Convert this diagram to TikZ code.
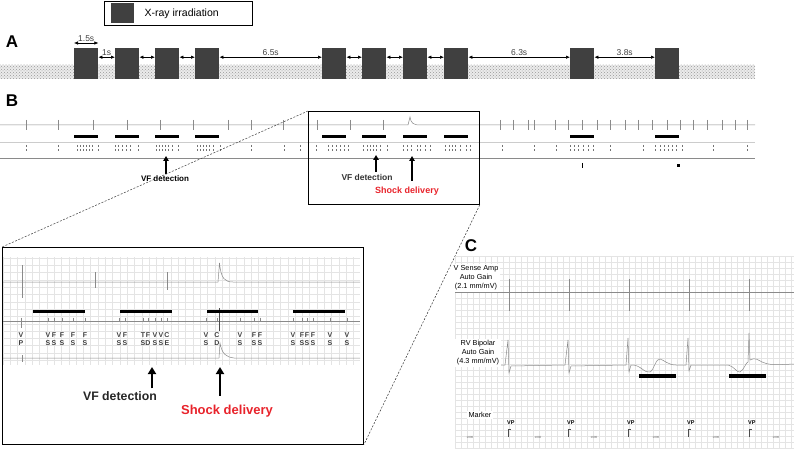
\documentclass[tikz,border=0pt]{standalone}
\usepackage{fontspec}
\setmainfont{Liberation Sans}
\usepackage{tikz}
\usetikzlibrary{positioning,arrows.meta,patterns}
\usepackage{xcolor}
\definecolor{xgray}{HTML}{404040}
\definecolor{shockred}{HTML}{E8232B}
\definecolor{tracegray}{HTML}{8A8A8A}
\definecolor{gridgray}{HTML}{E4E4E4}

\begin{document}
\begin{tikzpicture}[
    x=1pt, y=-1pt,
    xray/.style={fill=xgray, draw=none, minimum width=24pt, minimum height=31pt, inner sep=0pt, anchor=north west},
    band/.style={fill=black!12, pattern=crosshatch dots, pattern color=black!40, draw=none},
    span/.style={<->, >={Latex[length=4pt,width=3.5pt]}, line width=0.6pt},
    seclabel/.style={font=\fontsize{17}{17}\selectfont\bfseries, inner sep=0pt},
    dur/.style={font=\fontsize{8.5}{9}\selectfont, inner sep=1.5pt, text=black!75},
    trace/.style={draw=tracegray, line width=0.5pt},
    exbar/.style={line width=3pt},
    bigarrow/.style={-{Triangle[length=7pt,width=8pt]}, line width=2.2pt},
    smallarrow/.style={-{Triangle[length=5pt,width=5.5pt]}, line width=1.5pt},
    zoomframe/.style={draw, line width=0.8pt, inner sep=0pt, anchor=north west},
    zoomline/.style={dash pattern=on 2pt off 1.5pt, line width=0.5pt, black!80},
    mklabel/.style={font=\fontsize{7}{7.6}\selectfont\bfseries, align=center, inner sep=0pt, text=black!75},
    chlabel/.style={fill=white, inner sep=1.5pt, align=center, font=\fontsize{7.3}{9}\selectfont}
]
\useasboundingbox (0,0) rectangle (794,449);

% Legend
\node[draw, line width=0.6pt, minimum width=148pt, minimum height=24pt, inner sep=0pt, anchor=north west] (legend) at (104,1) {};
\node[fill=xgray, minimum width=23pt, minimum height=20pt, inner sep=0pt, anchor=west] (legsq) at ([xshift=7pt]legend.west) {};
\node[right=10pt of legsq, inner sep=0pt, font=\fontsize{10.5}{12}\selectfont] (legtext) {X-ray irradiation};

% Panel A
\node[seclabel] (labA) at (12,42) {A};
\fill[black!8] (0,65) rectangle (755,79);
\fill[band] (0,65) rectangle (755,79);
\foreach \x [count=\i] in {74,115,155,195,322,362,403,444,570,655}
    \node[xray] (x\i) at (\x,48) {};

\draw[span] ([yshift=5pt]x1.north west) -- node[dur, above] {1.5s} ([yshift=5pt]x1.north east);
\draw[span] ([yshift=6.5pt]x1.east) -- node[dur, above] {1s} ([yshift=6.5pt]x2.west);
\foreach \a/\b in {2/3,3/4,5/6,6/7,7/8}
    \draw[span] ([yshift=6.5pt]x\a.east) -- ([yshift=6.5pt]x\b.west);
\draw[span] ([yshift=6.5pt]x4.east) -- node[dur, above] {6.5s} ([yshift=6.5pt]x5.west);
\draw[span] ([yshift=6.5pt]x8.east) -- node[dur, above] {6.3s} ([yshift=6.5pt]x9.west);
\draw[span] ([yshift=6.5pt]x9.east) -- node[dur, above] {3.8s} ([yshift=6.5pt]x10.west);

% Panel B, overview strip
\node[seclabel] (labB) at (12,101) {B};
\draw[trace] (0,125) -- (408,125) -- (410,117) .. controls (411,123) and (413,125) .. (420,125) -- (755,125);
\draw[trace, draw=black!20] (0,142) -- (755,142);
\draw[trace] (0,158) -- (755,158);
\foreach \x in {26,58,93,127,160,193,228,251,283,317,350,383,500,513,528,534,555,568,582,597,610,625,638,652,667,680,693,707,722,735,747}
    \draw[trace] (\x,120) -- (\x,130);
\foreach \x in {26,58,77,80,83,86,89,92,98,115,118,122,126,130,138,156,159,162,165,168,172,178,197,200,203,206,209,213,220,251,284,300,316,328,332,336,340,344,348,363,367,370,373,376,380,387,403,407,411,417,420,425,430,445,449,452,455,460,466,470,502,534,556,570,574,578,583,588,593,610,643,655,660,664,668,672,676,682,713,747}
    \draw[black!55, line width=0.4pt] (\x,145) -- (\x,147.5) (\x,149) -- (\x,151.5);
\draw[black, line width=0.8pt] (582,163) -- (582,168);
\fill[black] (677,164) rectangle (680,167);
\coordinate (barB) at (0,137);
\foreach \i in {1,...,10}
    \draw[exbar] (x\i.west |- barB) -- (x\i.east |- barB);

\node[font=\fontsize{8}{9}\selectfont\bfseries, inner sep=0pt] (vfB1) at (165,179) {VF detection};
\coordinate (vfB1tip) at (166,156);
\draw[smallarrow, shorten <=2pt] (vfB1.north -| vfB1tip) -- (vfB1tip);

\node[zoomframe, minimum width=171pt, minimum height=93pt] (zoomB) at (308,111) {};
\node[font=\fontsize{8.5}{9}\selectfont\bfseries, inner sep=0pt, text=black!80] (vfB2) at (367,177) {VF detection};
\coordinate (vfB2tip) at (376,155);
\draw[smallarrow, shorten <=2pt] (vfB2.north -| vfB2tip) -- (vfB2tip);
\node[font=\fontsize{9}{10}\selectfont\bfseries, inner sep=0pt, text=shockred] (shockB) at (407,191) {Shock delivery};
\coordinate (shockBtip) at (412,156);
\draw[smallarrow, shorten <=6pt] (shockB.north -| shockBtip) -- (shockBtip);

% Panel B, enlarged strip
\node[zoomframe, minimum width=361pt, minimum height=197pt] (bigB) at (2,247) {};
\foreach \x in {3,10.3,...,360}
    \draw[gridgray, line width=0.4pt] (\x,257) -- (\x,365);
\foreach \y in {258,265.3,...,365}
    \draw[gridgray, line width=0.4pt] (3,\y) -- (360,\y);
\draw[trace] (3,282) -- (218,282) -- (219.5,263) .. controls (221,279) and (225,282) .. (233,282) -- (360,282);
\draw[trace] (22,265) -- (22,298);
\draw[trace] (95,272) -- (95,288);
\draw[trace] (167,272) -- (167,290);
\draw[trace] (3,321) -- (360,321);
\draw[trace] (3,358) -- (219,358) -- (220,343) .. controls (222,354) and (226,357) .. (234,358) -- (360,358);
\draw[trace] (22,355) -- (22,362);
\draw[trace] (21,321) -- (21,328);
\draw[black!70, line width=0.7pt] (219,308) -- (219,331);
\foreach \a/\b in {33/85,120/172,207/258,293/345}
    \draw[exbar] (\a,311) -- (\b,311);
\foreach \x/\t/\b [count=\i] in {21/V/P,48/V/S,54/F/S,62/F/S,73/F/S,85/F/S,119/V/S,125/F/S,143/T/S,148/F/D,155/V/S,161/V/S,167/C/E,206/V/S,217/C/D,240/V/S,254/F/S,260/F/S,293/V/S,302/F/S,307/F/S,313/F/S,330/V/S,347/V/S}
    {\node[mklabel] (mk\i) at (\x,339) {\t\\\b};
     \draw[trace] (\x,317.5) -- (\x,321);}

\node[font=\fontsize{12.3}{13}\selectfont\bfseries, inner sep=0pt, text=black!85] (vfdet) at (120,396) {VF detection};
\coordinate (vftip) at (152,367);
\draw[bigarrow, shorten <=3pt] (vfdet.north -| vftip) -- (vftip);
\node[font=\fontsize{13}{14}\selectfont\bfseries, inner sep=0pt, text=shockred] (shock) at (227,411) {Shock delivery};
\coordinate (shocktip) at (220,367);
\draw[bigarrow, shorten <=9pt] (shock.north -| shocktip) -- (shocktip);

\draw[zoomline] (zoomB.north west) -- (bigB.north west);
\draw[zoomline] (zoomB.south east) -- (bigB.south east);

% Panel C
\node[seclabel] (labC) at (471,246) {C};
\foreach \x in {455,461,...,794}
    \draw[gridgray, line width=0.4pt] (\x,256) -- (\x,449);
\foreach \y in {256,262,...,449}
    \draw[gridgray, line width=0.4pt] (455,\y) -- (794,\y);
\draw[trace] (455,292) -- (794,292);
\foreach \x in {509,569,629,689,749}
    \draw[trace] (\x,279) -- (\x,311);
\draw[trace] (455,365) -- (505,365) -- (508,340) -- (509,373) -- (511,366) -- (565,365) -- (568,340) -- (569,373) -- (571,366)
    -- (626,365) -- (628,338) -- (629,372) -- (631,365) .. controls (640,364) and (645,374) .. (650,372)
    .. controls (654,370) and (656,358) .. (660,359) .. controls (664,360) and (668,365) .. (676,365)
    -- (686,365) -- (688,338) -- (689,371) -- (691,365) -- (728,365) .. controls (734,366) and (737,373) .. (740,372)
    .. controls (744,370) and (746,362) .. (748,362) -- (749,333) -- (750,360) .. controls (755,357) and (758,360) .. (762,362)
    .. controls (768,365) and (775,365) .. (794,364);
\draw[line width=4pt] (639,376) -- (676,376);
\draw[line width=4pt] (729,376) -- (766,376);
\foreach \x [count=\i] in {508,568,628,688,749}
    {\node[font=\fontsize{5.5}{6}\selectfont\bfseries, inner sep=0pt, anchor=west] (vp\i) at (\x-1,423) {VP};
     \draw[black!70, line width=0.5pt] (\x,437) -- (\x,429) -- (\x+3,429);}
\foreach \x [count=\i] in {470,538,594,656,716,776}
    \node[font=\fontsize{3}{3}\selectfont, inner sep=0pt, text=black!60] (ms\i) at (\x,437) {1000};
\node[chlabel] (vsense) at (476,278) {V Sense Amp\\Auto Gain\\(2.1 mm/mV)};
\node[chlabel] (rvbip) at (478,353) {RV Bipolar\\Auto Gain\\(4.3 mm/mV)};
\node[chlabel] (marker) at (480,415) {Marker};

\end{tikzpicture}
\end{document}
